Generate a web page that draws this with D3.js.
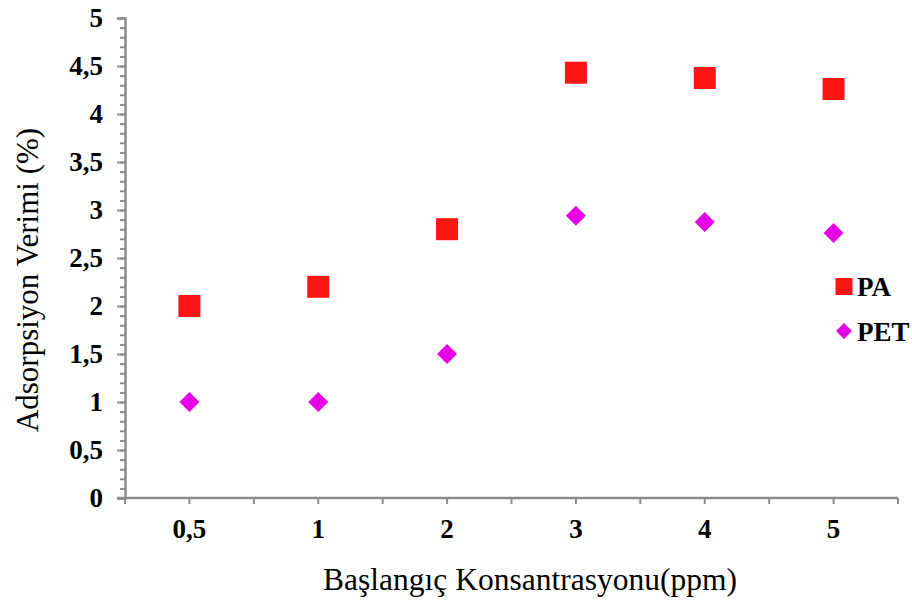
<!DOCTYPE html>
<html>
<head>
<meta charset="utf-8">
<script src="https://cdn.jsdelivr.net/npm/d3@7"></script>
<style>
  body { margin: 0; background: #fff; }
  text { font-family: "Liberation Serif", "Times New Roman", serif; }
</style>
</head>
<body>
<script>
const categories = ["0,5", "1", "2", "3", "4", "5"];
const paValues = [2.0, 2.2, 2.8, 4.43, 4.375, 4.26];
const petValues = [1.0, 1.0, 1.5, 2.94, 2.875, 2.76];
const yTicks = [0, 0.5, 1, 1.5, 2, 2.5, 3, 3.5, 4, 4.5, 5];

const width = 912, height = 603;
const margin = {left: 125, right: 14, top: 18, bottom: 105};
const axisColor = "#8c8c8c";
const paColor = "#ff1414";
const petColor = "#e600e6";

const svg = d3.select("body").append("svg")
    .attr("width", width)
    .attr("height", height);

const x = d3.scaleBand()
    .domain(categories)
    .range([margin.left, width - margin.right])
    .padding(0);

const y = d3.scaleLinear()
    .domain([0, 5])
    .range([height - margin.bottom, margin.top]);

// minor y ticks
svg.append("g")
    .attr("transform", `translate(${margin.left},0)`)
    .call(d3.axisLeft(y).tickValues(d3.range(0, 51).map(d => d / 10)).tickSize(5).tickFormat(""))
    .call(g => g.select(".domain").remove())
    .call(g => g.selectAll("line").attr("stroke", axisColor).attr("stroke-width", 2));

// major y ticks + labels
svg.append("g")
    .attr("transform", `translate(${margin.left},0)`)
    .call(d3.axisLeft(y).tickValues(yTicks).tickSize(8).tickPadding(14)
      .tickFormat(d => String(d).replace(".", ",")))
    .call(g => g.select(".domain").attr("stroke", axisColor).attr("stroke-width", 2.5))
    .call(g => g.selectAll("line").attr("stroke", axisColor).attr("stroke-width", 2))
    .call(g => g.selectAll("text")
      .attr("fill", "#000")
      .attr("font-size", 27)
      .attr("font-weight", "bold")
      .attr("font-family", "Liberation Serif"));

// x axis: ticks at centers and at band edges
const xAxis = svg.append("g")
    .attr("transform", `translate(0,${y(0)})`)
    .call(d3.axisBottom(x).tickSize(6).tickPadding(15).tickSizeOuter(0))
    .call(g => g.select(".domain").attr("stroke", axisColor).attr("stroke-width", 2.5)
      .attr("d", `M${margin.left - 8},0H${width - margin.right}`))
    .call(g => g.selectAll("line").attr("stroke", axisColor).attr("stroke-width", 2))
    .call(g => g.selectAll("text")
      .attr("fill", "#000")
      .attr("font-size", 27)
      .attr("font-weight", "bold")
      .attr("font-family", "Liberation Serif"));

const edges = categories.map(c => x(c)).concat([x(categories[categories.length - 1]) + x.bandwidth()]);
xAxis.selectAll(".edge")
  .data(edges)
  .join("line")
    .attr("class", "edge")
    .attr("x1", d => d).attr("x2", d => d)
    .attr("y1", 0).attr("y2", 6)
    .attr("stroke", axisColor)
    .attr("stroke-width", 2);

const cx = c => x(c) + x.bandwidth() / 2;

// PA squares
const sq = 22;
svg.append("g")
  .selectAll("rect")
  .data(categories.map((c, i) => ({c, v: paValues[i]})))
  .join("rect")
    .attr("x", d => cx(d.c) - sq / 2)
    .attr("y", d => y(d.v) - sq / 2)
    .attr("width", sq)
    .attr("height", sq)
    .attr("fill", paColor);

// PET diamonds
const dm = 10;
const diamond = r => `M0,${-r}L${r},0L0,${r}L${-r},0Z`;
svg.append("g")
  .selectAll("path")
  .data(categories.map((c, i) => ({c, v: petValues[i]})))
  .join("path")
    .attr("transform", d => `translate(${cx(d.c)},${y(d.v)})`)
    .attr("d", diamond(dm))
    .attr("fill", petColor);

// legend
const legend = svg.append("g").attr("transform", "translate(844,0)");
legend.append("rect")
    .attr("x", -8.5).attr("y", 278)
    .attr("width", 17).attr("height", 17)
    .attr("fill", paColor);
legend.append("text")
    .attr("x", 13).attr("y", 296)
    .attr("font-size", 27).attr("font-weight", "bold")
    .text("PA");
legend.append("path")
    .attr("transform", "translate(0,331)")
    .attr("d", diamond(8))
    .attr("fill", petColor);
legend.append("text")
    .attr("x", 13).attr("y", 341)
    .attr("font-size", 27).attr("font-weight", "bold")
    .text("PET");

// axis titles
svg.append("text")
    .attr("x", 530)
    .attr("y", 590)
    .attr("text-anchor", "middle")
    .attr("font-size", 31.5)
    .text("Başlangıç Konsantrasyonu(ppm)");

svg.append("text")
    .attr("transform", "translate(38,280) rotate(-90)")
    .attr("text-anchor", "middle")
    .attr("font-size", 31)
    .text("Adsorpsiyon Verimi (%)");
</script>
</body>
</html>
